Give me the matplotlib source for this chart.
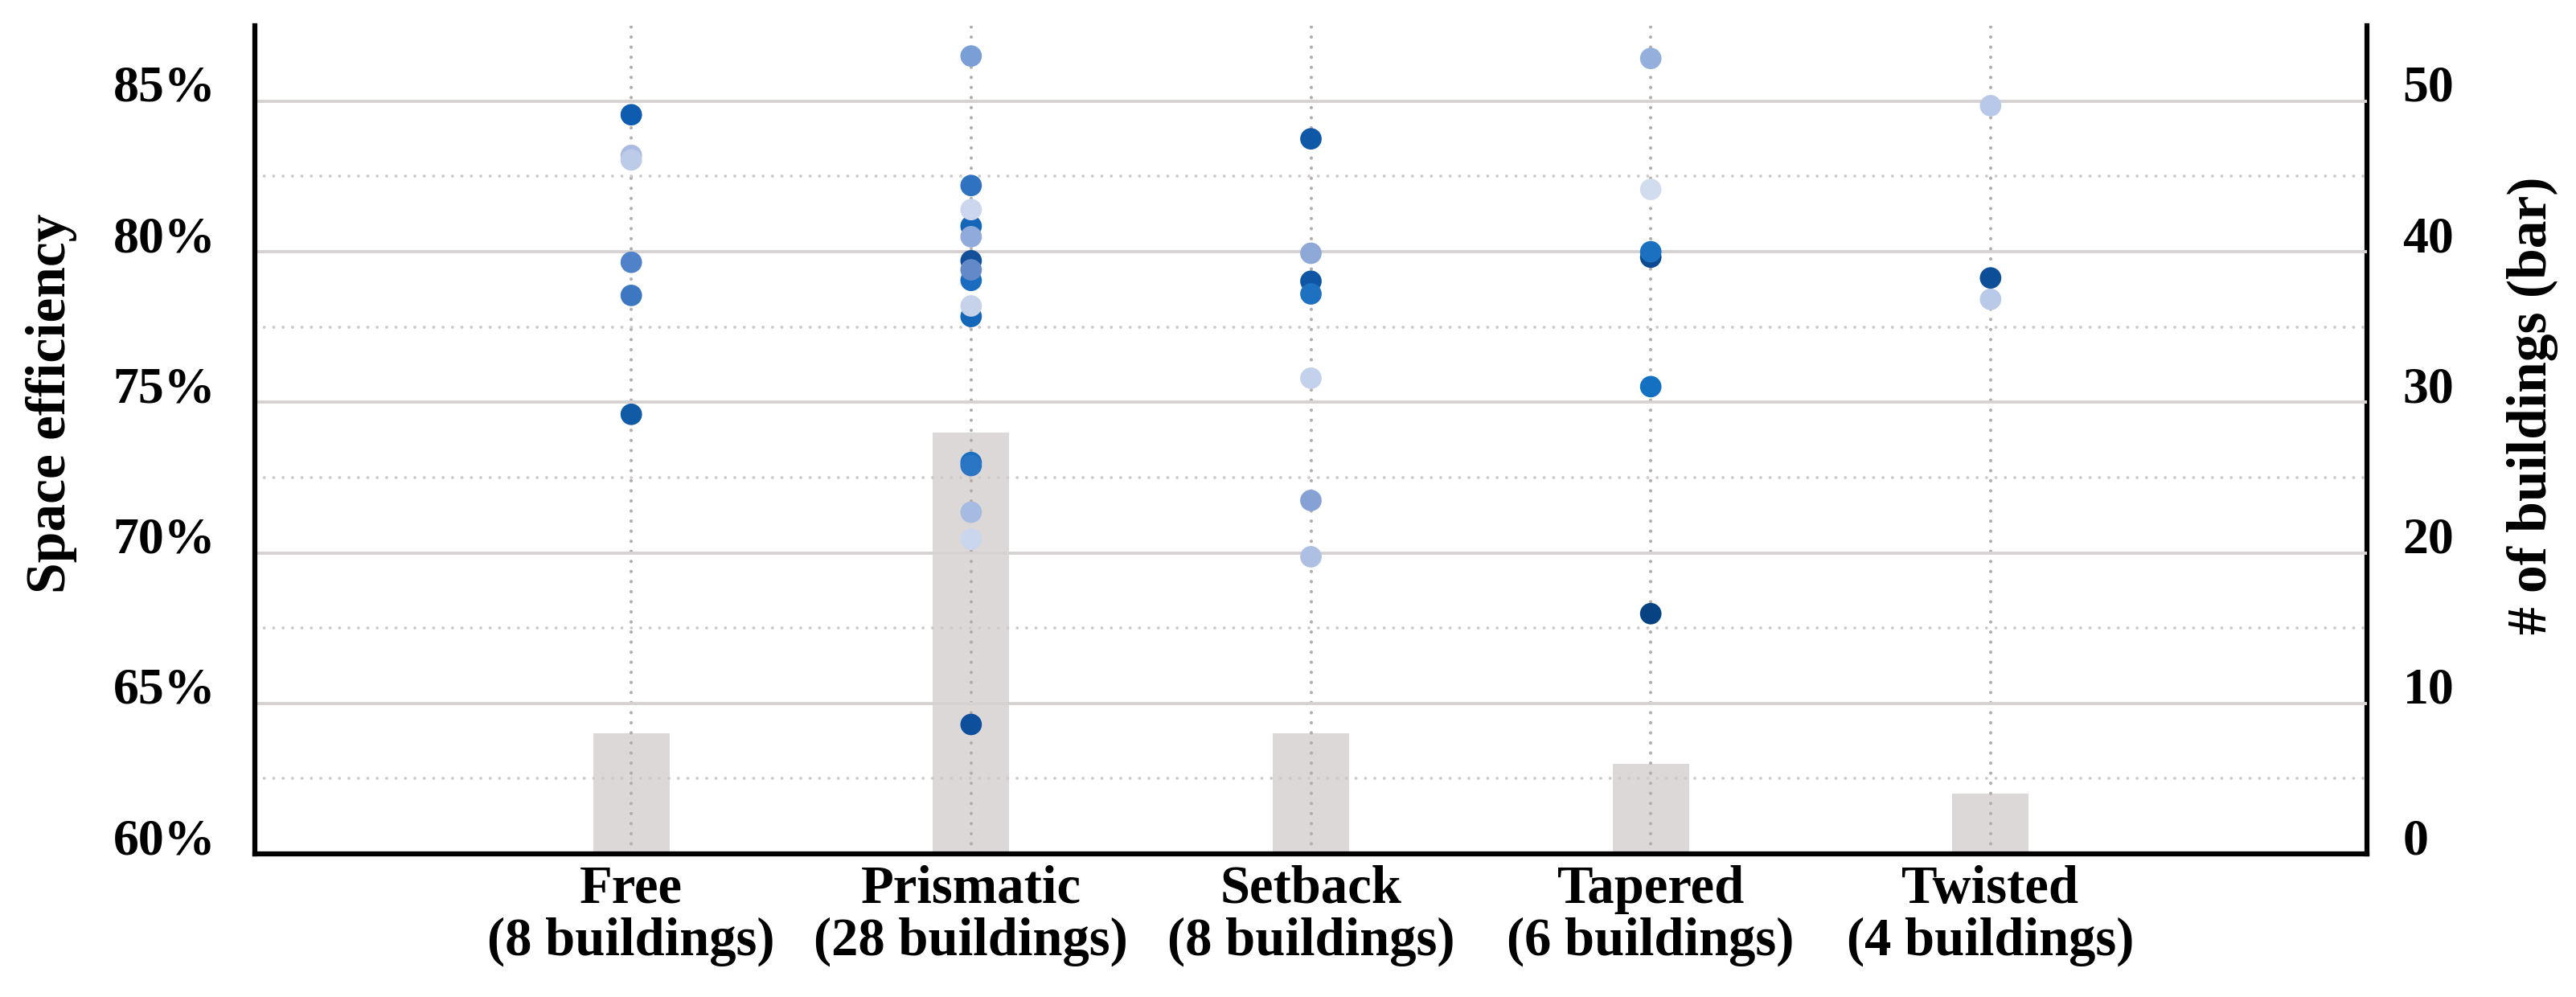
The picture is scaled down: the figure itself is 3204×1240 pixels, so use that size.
import numpy as np
import matplotlib.pyplot as plt

plt.rcParams["font.family"] = ["Liberation Serif", "DejaVu Serif"]
plt.rcParams["font.weight"] = "bold"

# données
categories = ["Free", "Prismatic", "Setback", "Tapered", "Twisted"]
n_buildings = [8, 28, 8, 6, 4]

free_eff = [84.55, 83.2, 83.05, 79.65, 78.55, 74.6]
prismatic_eff = [86.5, 82.2, 80.85, 81.4, 80.5, 79.7, 79.05, 79.4,
                 77.85, 78.2, 73.0, 72.9, 71.35, 70.45, 64.3]
setback_eff = [83.75, 79.95, 79.02, 78.6, 75.8, 71.74, 69.87]
tapered_eff = [86.42, 82.07, 79.82, 80.0, 75.52, 67.98]
twisted_eff = [84.85, 79.13, 78.42]

# couleurs des points (même ordre que les valeurs)
free_col = ["#0d5cb0", "#aabce2", "#bccbe8", "#4f82c8", "#3d77c2", "#105aa6"]
prismatic_col = ["#7a9fd6", "#2e72c0", "#1565b8", "#ccd7ee", "#90abdb", "#12509a",
                 "#1a6cc0", "#6489c8", "#1466b8", "#c5d2ea", "#1a6ec0", "#2a76c4",
                 "#a5bbe2", "#c9d6ee", "#0d4f9a"]
setback_col = ["#0f58a8", "#8ea8d8", "#0e56a4", "#1e70c0", "#c3d1ec", "#86a2d4", "#aebfe4"]
tapered_col = ["#95afdc", "#d2dcef", "#0b4a90", "#1c70c0", "#1470c0", "#074282"]
twisted_col = ["#b8c8e8", "#0c4f98", "#b9c9e8"]

eff = [free_eff, prismatic_eff, setback_eff, tapered_eff, twisted_eff]
cols = [free_col, prismatic_col, setback_col, tapered_col, twisted_col]
xlabels = [f"{c}\n({n} buildings)" for c, n in zip(categories, n_buildings)]
x = np.arange(len(categories))

fig = plt.figure(figsize=(32.04, 12.4), dpi=100)
ax1 = fig.add_axes([0.0989, 0.1435, 0.82, 0.8305])
ax2 = ax1.twinx()
ax1.set_zorder(ax2.get_zorder() + 1)
ax1.patch.set_visible(False)

# barres : nombre de bâtiments
ax2.bar(x, n_buildings, width=0.225, color="#dcd8d8", zorder=1)
ax2.set_ylim(0, 55)
ax2.set_yticks(range(0, 51, 10))

# points : efficacité
for i in range(len(categories)):
    ax1.scatter(np.full(len(eff[i]), x[i]), eff[i], c=cols[i], s=370,
                linewidths=0, zorder=4)

ax1.set_xlim(-1.108, 5.108)
ax1.set_ylim(60, 87.5)
ax1.set_yticks(range(60, 86, 5))
ax1.set_yticklabels([f"{v}%" for v in range(60, 86, 5)])
ax1.set_yticks(np.arange(62.5, 85, 5), minor=True)
ax1.set_xticks(x)
ax1.set_xticklabels(xlabels, linespacing=1.08)

dots = (0, (0.01, 3.0))
ax1.grid(axis="y", which="major", color="#d6d2d2", linewidth=2.8, zorder=0)
ax1.grid(axis="y", which="minor", color="#cfcaca", linewidth=2.8,
         linestyle=dots, dash_capstyle="round")
ax1.grid(axis="x", which="major", color="#b3aeae", linewidth=3.0,
         linestyle=dots, dash_capstyle="round")
ax1.set_axisbelow(True)

ax1.tick_params(axis="y", which="both", length=0, pad=35, labelsize=46)
ax1.tick_params(axis="x", length=0, pad=10, labelsize=48)
ax2.tick_params(axis="y", length=0, pad=32, labelsize=46)
for lbl in ax1.get_yticklabels() + ax2.get_yticklabels():
    lbl.set_verticalalignment("baseline")

for s in ["top", "right"]:
    ax1.spines[s].set_visible(False)
for s in ["top", "left", "bottom"]:
    ax2.spines[s].set_visible(False)
for sp in [ax1.spines["left"], ax1.spines["bottom"], ax2.spines["right"]]:
    sp.set_linewidth(4.5)
    sp.set_color("black")

fig.text(64 / 3204, 1 - 502 / 1240, "Space efficiency", rotation=90,
         ha="center", va="center", fontsize=50)
fig.text(3150 / 3204, 1 - 504 / 1240, "# of buildings (bar)", rotation=90,
         ha="center", va="center", fontsize=50)

plt.savefig("out.png", dpi=100, facecolor="white")
